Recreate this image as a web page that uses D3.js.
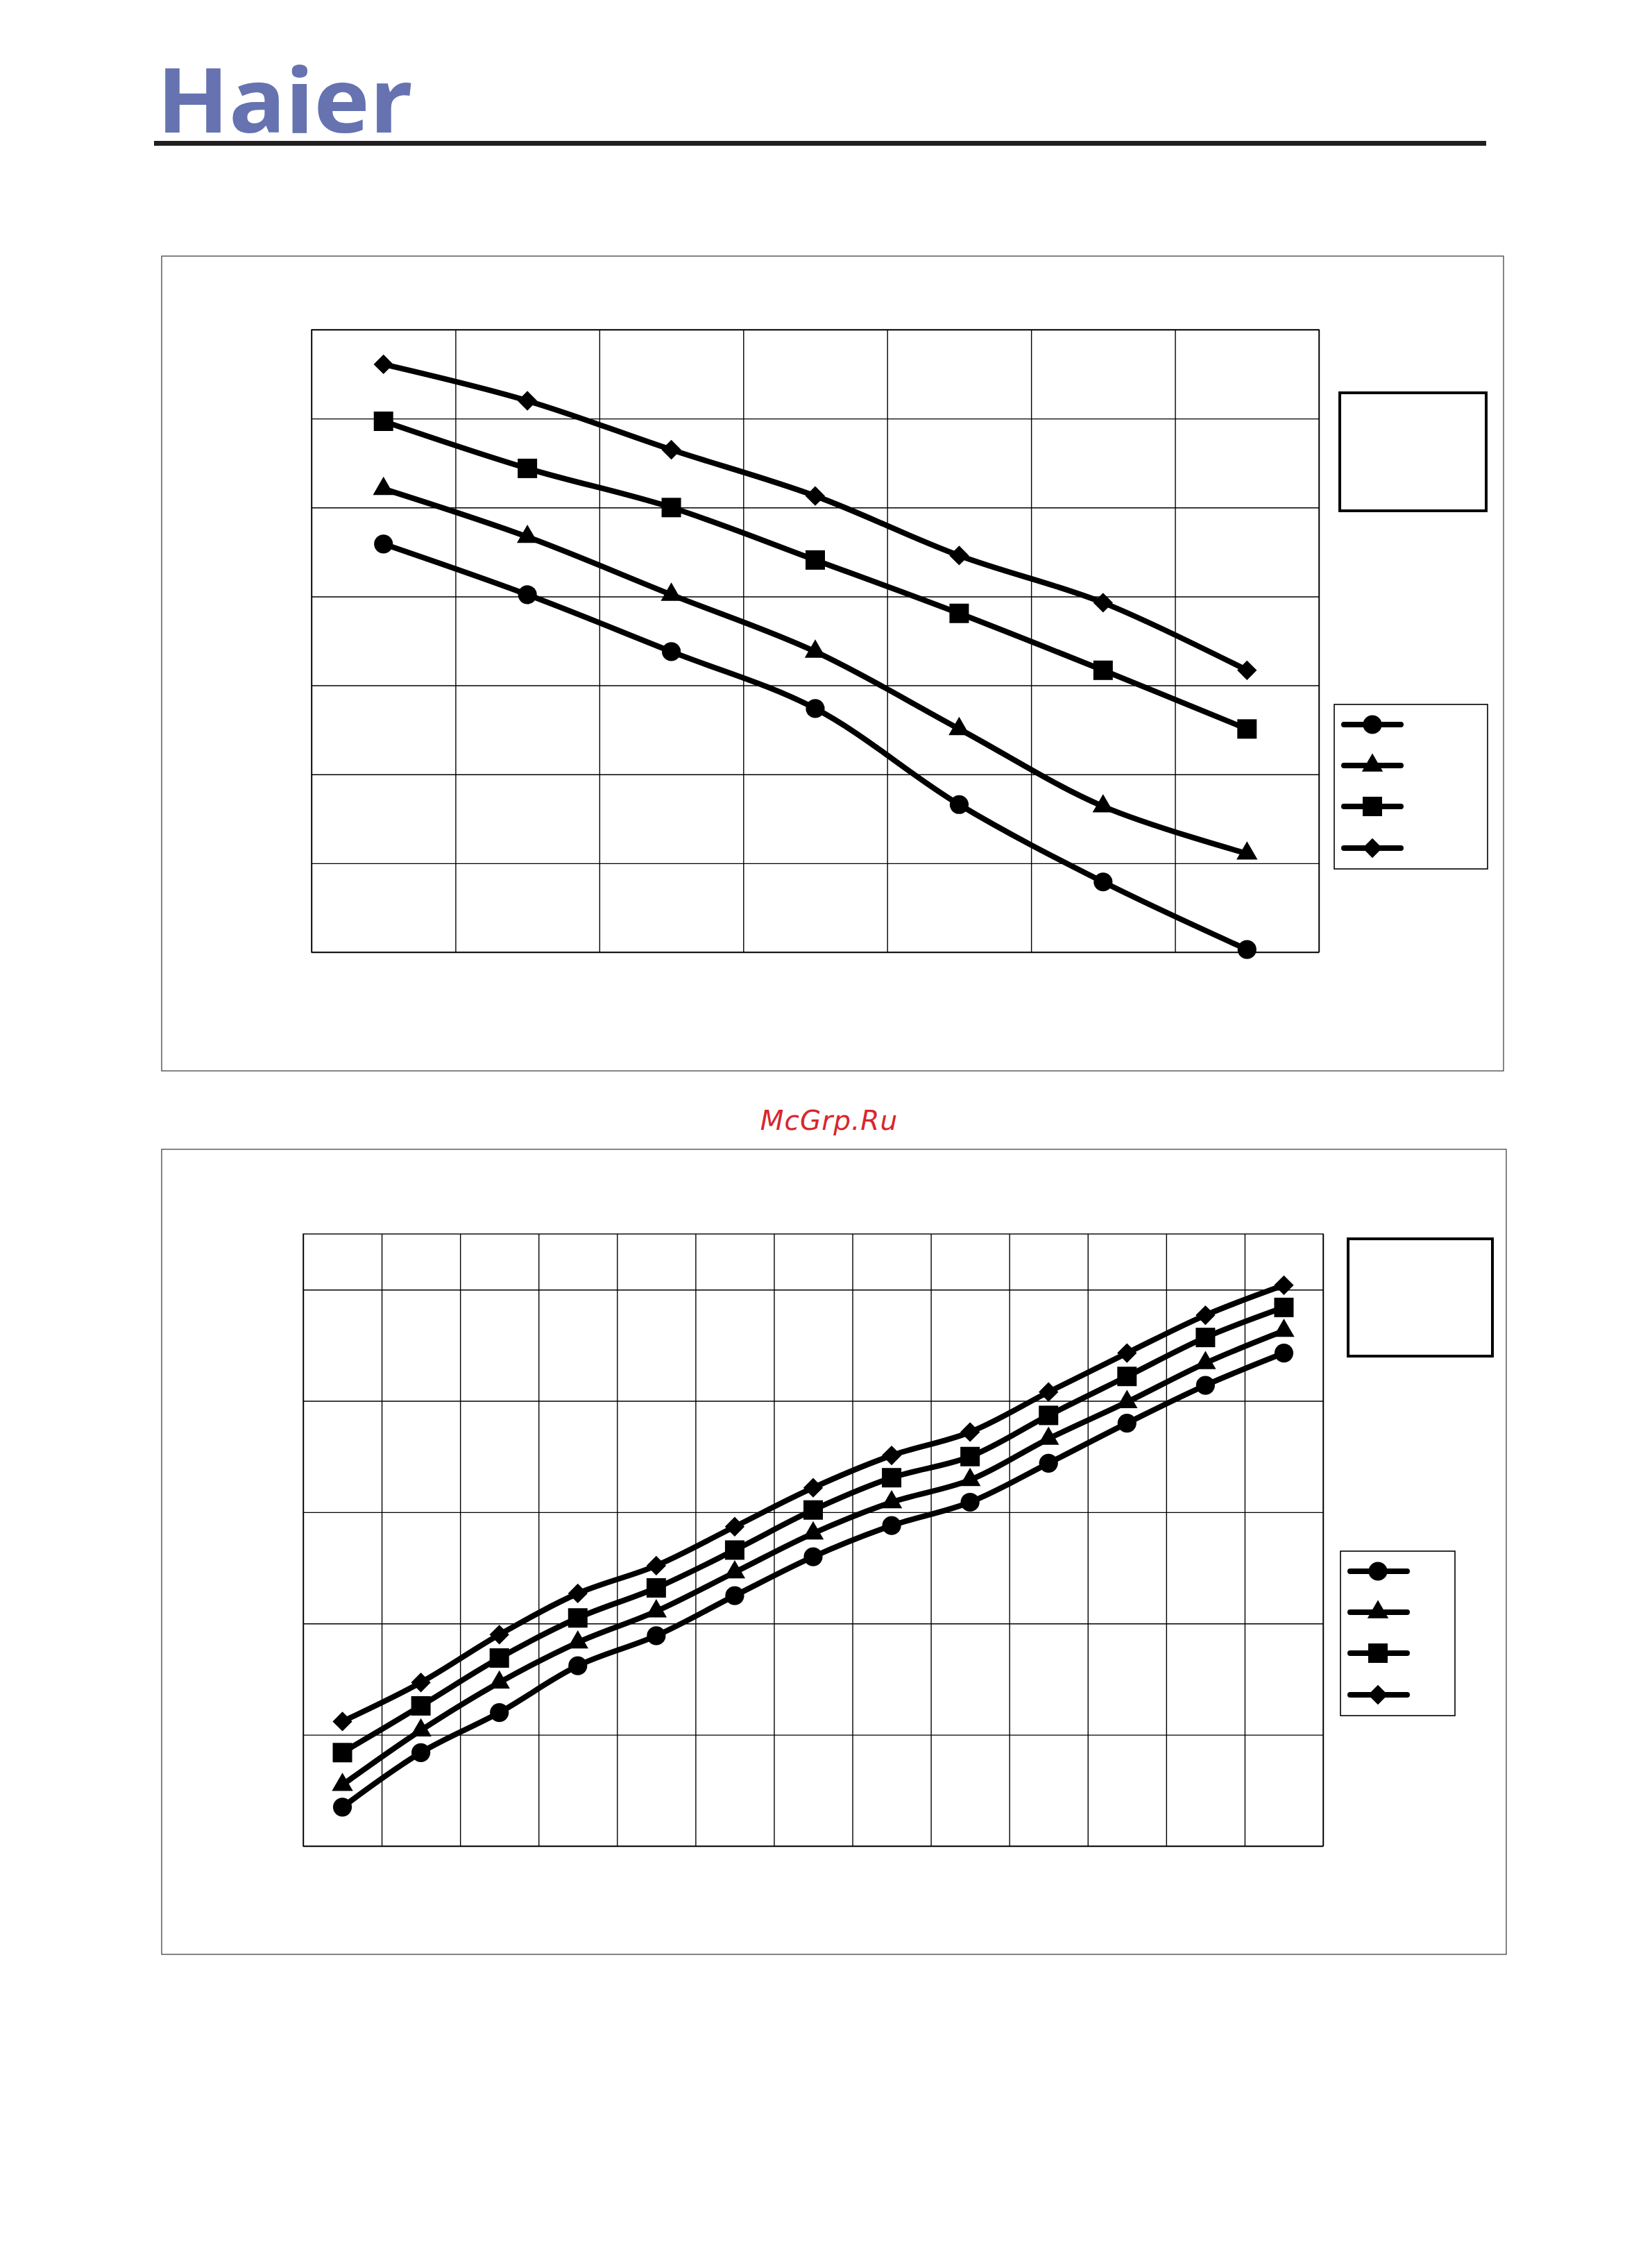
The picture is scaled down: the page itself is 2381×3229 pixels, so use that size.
<!DOCTYPE html>
<html><head><meta charset="utf-8">
<script src="https://cdn.jsdelivr.net/npm/d3@7"></script>
<style>body{margin:0;background:#fff}svg{display:block}</style>
</head><body>
<script>
// ---------- DATA ----------
const topCategories = ["T1","T2","T3","T4","T5","T6","T7"];
const topGridRows = [0,1,2,3,4,5,6,7];
const topCircle   = [4.59,4.02,3.38,2.74,1.66,0.79,0.03];
const topTriangle = [5.21,4.67,4.02,3.38,2.51,1.64,1.11];
const topSquare   = [5.97,5.44,5.00,4.41,3.81,3.17,2.51];
const topDiamond  = [6.61,6.20,5.65,5.13,4.46,3.93,3.17];

const botCategories = ["B1","B2","B3","B4","B5","B6","B7","B8","B9","B10","B11","B12","B13"];
const botGridRows = [0,1,2,3,4,5];
const botCircle   = [0.35,0.84,1.20,1.62,1.89,2.25,2.60,2.88,3.09,3.44,3.80,4.14,4.43];
const botTriangle = [0.55,1.04,1.47,1.83,2.11,2.46,2.81,3.09,3.29,3.66,3.99,4.34,4.63];
const botSquare   = [0.84,1.26,1.69,2.05,2.32,2.66,3.02,3.31,3.50,3.87,4.22,4.57,4.84];
const botDiamond  = [1.12,1.47,1.90,2.27,2.52,2.87,3.22,3.51,3.72,4.08,4.43,4.77,5.04];

const markerKinds = ["circle","triangle","square","diamond"];
const logoText = "Haier";
const watermark = "McGrp.Ru";

// ---------- DRAW ----------
const W = 2381, H = 3229;
const svg = d3.select("body").append("svg").attr("width", W).attr("height", H);
svg.append("rect").attr("width", W).attr("height", H).attr("fill", "#fff");

// header
svg.append("text").attr("x", 226).attr("y", 191)
  .attr("font-family", "'Noto Sans', 'DejaVu Sans', sans-serif").attr("font-weight", 700)
  .attr("font-size", 130).attr("fill", "#6673b0")
  .attr("textLength", 368).attr("lengthAdjust", "spacingAndGlyphs").text(logoText);
svg.append("rect").attr("x", 222).attr("y", 203).attr("width", 1920).attr("height", 7).attr("fill", "#231f20");

svg.append("text").attr("x", 1195).attr("y", 1628).attr("text-anchor", "middle")
  .attr("font-family", "'DejaVu Sans', sans-serif").attr("font-style", "italic")
  .attr("font-size", 39).attr("fill", "#d9262b").attr("letter-spacing", 1).text(watermark);

function symbolPath(kind) {
  if (kind === "circle") return d3.symbol(d3.symbolCircle, 580)();
  if (kind === "triangle") return d3.symbol(d3.symbolTriangle, 400)();
  if (kind === "square") return d3.symbol(d3.symbolSquare, 784)();
  return d3.symbol(d3.symbolSquare, 400)();
}
function symbolTransform(kind, x, y) {
  return kind === "diamond" ? `translate(${x},${y}) rotate(45)` : `translate(${x},${y})`;
}

function drawChart(cfg) {
  const g = svg.append("g");
  // outer frame
  g.append("rect").attr("x", cfg.box[0]).attr("y", cfg.box[1])
    .attr("width", cfg.box[2] - cfg.box[0]).attr("height", cfg.box[3] - cfg.box[1])
    .attr("fill", "none").attr("stroke", "#444").attr("stroke-width", 1.3);

  const [px0, py0, px1, py1] = cfg.plot;
  const x = d3.scaleBand().domain(cfg.categories).range([px0, px1]).padding(0);
  const xGrid = d3.scaleLinear().domain([0, cfg.categories.length]).range([px0, px1]);
  const y = d3.scaleLinear().domain([0, cfg.yMax]).range([py1, py0]);

  // gridlines via axes
  const gy = g.append("g").attr("transform", `translate(${px0},0)`)
    .call(d3.axisLeft(y).tickValues(cfg.rows).tickSize(-(px1 - px0)).tickFormat(""));
  const gx = g.append("g").attr("transform", `translate(0,${py1})`)
    .call(d3.axisBottom(xGrid).tickValues(d3.range(0, cfg.categories.length + 1)).tickSize(-(py1 - py0)).tickFormat(""));
  [gy, gx].forEach(a => {
    a.select(".domain").remove();
    a.selectAll("line").attr("stroke", "#000").attr("stroke-width", 1.4);
  });
  g.append("rect").attr("x", px0).attr("y", py0).attr("width", px1 - px0).attr("height", py1 - py0)
    .attr("fill", "none").attr("stroke", "#000").attr("stroke-width", 1.4);

  const line = d3.line()
    .x((d, i) => x(cfg.categories[i]) + x.bandwidth() / 2)
    .y(d => y(d))
    .curve(d3.curveCatmullRom.alpha(0.5));

  cfg.series.forEach((vals, si) => {
    const kind = markerKinds[si];
    g.append("path").datum(vals).attr("d", line).attr("fill", "none")
      .attr("stroke", "#000").attr("stroke-width", 8).attr("stroke-linecap", "round").attr("stroke-linejoin", "round");
    g.selectAll(null).data(vals).enter().append("path")
      .attr("d", symbolPath(kind))
      .attr("transform", (d, i) => symbolTransform(kind, x(cfg.categories[i]) + x.bandwidth() / 2, y(d)))
      .attr("fill", "#000");
  });

  // empty title box
  const t = cfg.titleBox;
  g.append("rect").attr("x", t[0]).attr("y", t[1]).attr("width", t[2] - t[0]).attr("height", t[3] - t[1])
    .attr("fill", "#fff").attr("stroke", "#000").attr("stroke-width", 4);
  // legend box
  const l = cfg.legendBox;
  g.append("rect").attr("x", l[0]).attr("y", l[1]).attr("width", l[2] - l[0]).attr("height", l[3] - l[1])
    .attr("fill", "#fff").attr("stroke", "#000").attr("stroke-width", 1.6);
  cfg.legendYs.forEach((ly, i) => {
    const kind = markerKinds[i];
    g.append("line").attr("x1", cfg.legendX[0]).attr("x2", cfg.legendX[2]).attr("y1", ly).attr("y2", ly)
      .attr("stroke", "#000").attr("stroke-width", 8).attr("stroke-linecap", "round");
    g.append("path").attr("d", symbolPath(kind)).attr("transform", symbolTransform(kind, cfg.legendX[1], ly)).attr("fill", "#000");
  });
}

drawChart({
  box: [233, 369, 2167, 1543],
  plot: [449, 475, 1901, 1372],
  categories: topCategories, rows: topGridRows, yMax: 7,
  series: [topCircle, topTriangle, topSquare, topDiamond],
  titleBox: [1931, 566, 2142, 736],
  legendBox: [1923, 1015, 2144, 1252],
  legendX: [1937, 1978, 2019],
  legendYs: [1044, 1103, 1162, 1222]
});

drawChart({
  box: [233, 1656, 2171, 2816],
  plot: [437, 1778, 1907, 2660],
  categories: botCategories, rows: botGridRows, yMax: 5.5,
  series: [botCircle, botTriangle, botSquare, botDiamond],
  titleBox: [1943, 1785, 2151, 1954],
  legendBox: [1932, 2235, 2097, 2472],
  legendX: [1946, 1986, 2028],
  legendYs: [2264, 2323, 2382, 2442]
});
</script>
</body></html>
